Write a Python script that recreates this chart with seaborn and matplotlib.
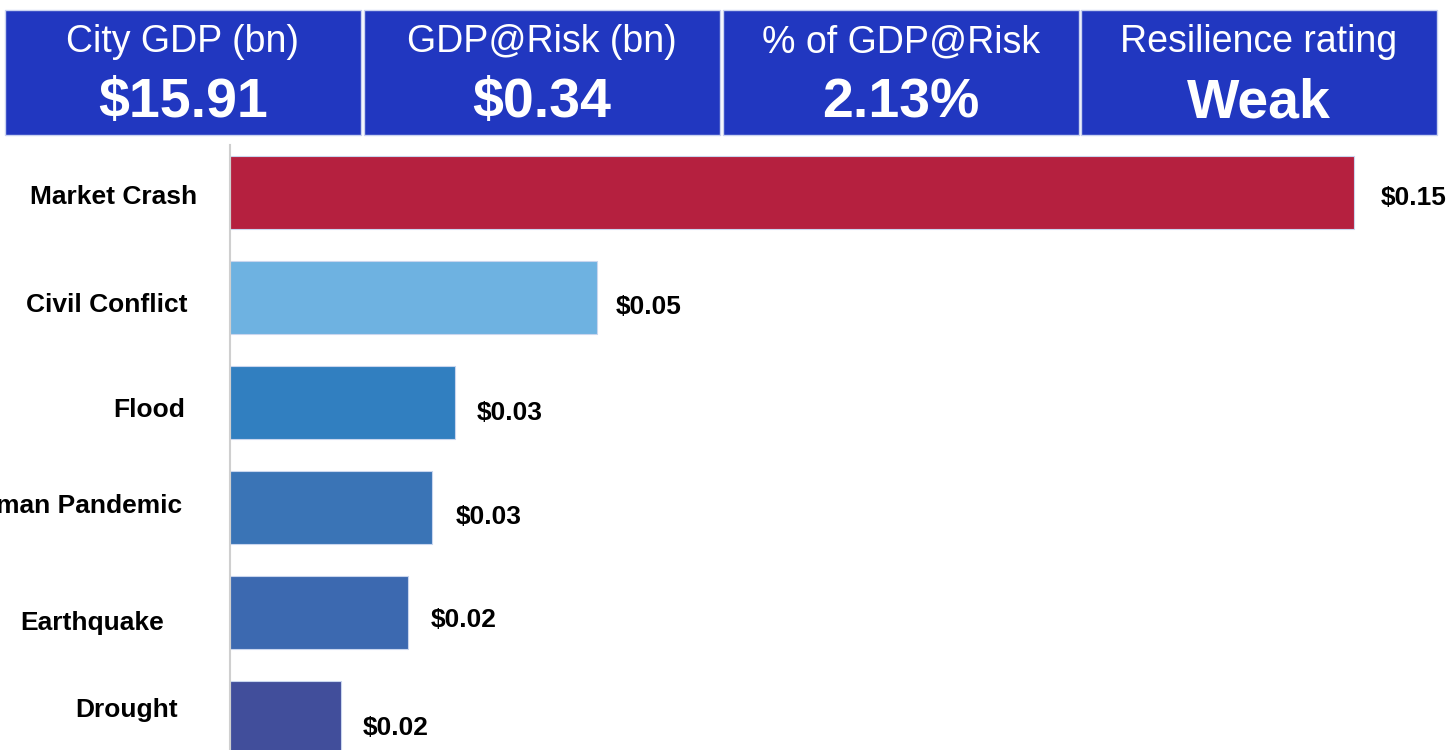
import numpy as np
import pandas as pd
import seaborn as sns
import matplotlib.pyplot as plt
from matplotlib.patches import Rectangle

# Data
categories = ["Market Crash", "Civil Conflict", "Flood", "Human Pandemic", "Earthquake", "Drought"]
gdp_at_risk = [0.150, 0.049, 0.030, 0.027, 0.0238, 0.0148]
value_labels = ["$0.15", "$0.05", "$0.03", "$0.03", "$0.02", "$0.02"]
bar_colors = ["#B5203F", "#6EB2E1", "#317FC0", "#3A74B6", "#3C69B0", "#414E9B"]

kpi_titles = ["City GDP (bn)", "GDP@Risk (bn)", "% of GDP@Risk", "Resilience rating"]
kpi_values = ["$15.91", "$0.34", "2.13%", "Weak"]

df = pd.DataFrame({"category": categories, "value": gdp_at_risk})

sns.set_theme(style="white")
plt.rcParams["font.family"] = ["Liberation Sans", "DejaVu Sans"]

W, H = 1447, 750
fig = plt.figure(figsize=(W / 100, H / 100), dpi=100)

# header KPI boxes
box_x = [5, 364, 723, 1081]
box_w = 356
for x0, title, val in zip(box_x, kpi_titles, kpi_values):
    fig.patches.append(Rectangle((x0 / W, 1 - 135 / H), box_w / W, 125 / H,
                                 transform=fig.transFigure, facecolor="#2137C0",
                                 edgecolor="#C9D2F0", linewidth=1))
    cx = (x0 + box_w / 2) / W
    fig.text(cx, 1 - 52 / H, title, ha="center", va="baseline", color="white", fontsize=27)
    fig.text(cx, 1 - 117 / H, val, ha="center", va="baseline", color="white",
             fontsize=40, fontweight="bold")

# bar chart
ax = fig.add_axes([230 / W, 0, (W - 230) / W, (H - 145) / H])
sns.barplot(data=df, y="category", x="value", hue="category", palette=bar_colors,
            orient="h", width=0.69, legend=False, ax=ax, saturation=1,
            edgecolor="#C9D6EE", linewidth=0.8)

ax.set_xlim(0, 0.15 * (W - 230) / 1124)
ax.set_ylim(5.31, -0.45)
ax.set_xlabel("")
ax.set_ylabel("")
ax.set_xticks([])
ax.set_yticks([])
for s in ["top", "right", "bottom"]:
    ax.spines[s].set_visible(False)
ax.spines["left"].set_color("#CFCFCF")
ax.spines["left"].set_linewidth(1.5)

# category labels (right edge offset from spine, baseline offset below bar centre), in pixels
cat_dx = [33, 43, 45, 48, 66, 52]
cat_dy = [11.5, 14.5, 15, 5.5, 17.5, 0]
for i, (name, dx, dy) in enumerate(zip(categories, cat_dx, cat_dy)):
    ax.annotate(name, xy=(0, i), xytext=(-dx, -dy), textcoords="offset pixels",
                ha="right", va="baseline", fontsize=19, fontweight="bold",
                color="black", annotation_clip=False)

# value labels
val_dx = [27, 19, 22, 23, 22, 22]
val_dy = [12.5, 16.5, 18, 16.5, 14.5, 18]
for i, (v, lab, dx, dy) in enumerate(zip(gdp_at_risk, value_labels, val_dx, val_dy)):
    ax.annotate(lab, xy=(v, i), xytext=(dx, -dy), textcoords="offset pixels",
                ha="left", va="baseline", fontsize=19, fontweight="bold",
                color="black", annotation_clip=False)

fig.savefig("out.png", dpi=100)
